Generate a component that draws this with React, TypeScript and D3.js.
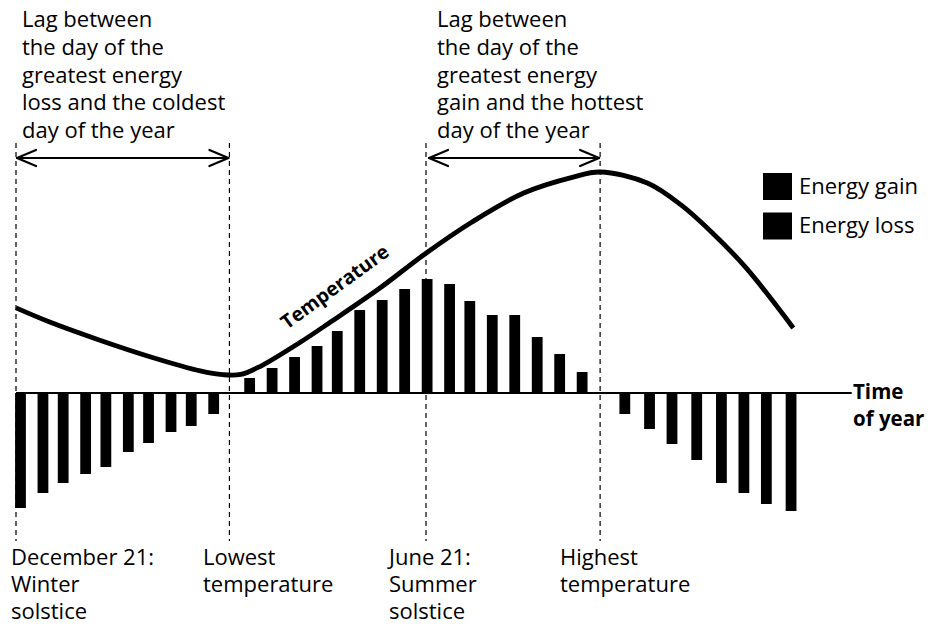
import React from "react";
import * as d3 from "d3";

// ---- data ----
const barDays = [2, 12, 21, 31, 40, 50, 59, 69, 78, 88, 104, 114, 124, 134, 143, 153, 163, 173, 183, 193, 202, 212, 222, 232, 242, 252, 271, 282, 292, 303, 314, 324, 334, 345];
const energy = [-115, -100, -90, -81, -74, -59, -50, -39, -33, -21, 15, 25, 36, 47, 62, 83, 93, 104, 114, 109, 92, 78, 78, 56, 39, 21, -21, -36, -51, -67, -90, -100, -111, -118];

const tempDays = [0, 15, 37, 60, 82, 92, 100, 109, 126, 140, 162, 182, 203, 226, 248, 260, 281, 296, 310, 325, 346];
const tempValues = [38.5, 32.1, 24, 16.3, 10, 8.3, 8.4, 12.2, 22.6, 32.1, 47.5, 62.9, 77.4, 90.5, 97.7, 100, 95, 85.1, 72.4, 56.6, 29.4];

const markerDays = [0, 95, 182.5, 260];
const markerLabels = [
  ["December 21:", "Winter", "solstice"],
  ["Lowest", "temperature"],
  ["June 21:", "Summer", "solstice"],
  ["Highest", "temperature"],
];
const lagText1 = ["Lag between", "the day of the", "greatest energy", "loss and the coldest", "day of the year"];
const lagText2 = ["Lag between", "the day of the", "greatest energy", "gain and the hottest", "day of the year"];
const legendItems = ["Energy gain", "Energy loss"];
const axisEndDay = 372;

const FONT = "'Open Sans', 'Noto Sans', sans-serif";
const FS = 22;
const LH = 27.8;

export default function App() {
  const x = d3.scaleLinear().domain([0, 182.5]).range([16, 426]);
  const yE = d3.scaleLinear().domain([-120, 120]).range([513, 273]);
  const yT = d3.scaleLinear().domain([0, 100]).range([393, 172]);
  const bw = x(4.8) - x(0);

  const line = d3
    .line<number>()
    .x((_, i) => x(tempDays[i]))
    .y((d) => yT(d))
    .curve(d3.curveCatmullRom.alpha(0.5));

  const arrowY = 158;
  const arrow = (x1: number, x2: number, key: string) => (
    <g key={key} stroke="#000" strokeWidth={2.2} fill="none" strokeLinecap="round" strokeLinejoin="round">
      <line x1={x1 + 1} y1={arrowY} x2={x2 - 1} y2={arrowY} />
      <polyline points={`${x1 + 20},${arrowY - 8} ${x1 + 1},${arrowY} ${x1 + 20},${arrowY + 8}`} />
      <polyline points={`${x2 - 20},${arrowY - 8} ${x2 - 1},${arrowY} ${x2 - 20},${arrowY + 8}`} />
    </g>
  );

  const labelX = [11, 203, 389, 560];

  return (
    <svg
      width={942}
      height={627}
      style={{ position: "absolute", left: 0, top: 0, background: "#fff" }}
      fontFamily={FONT}
    >
      <rect width={942} height={627} fill="#fff" />
      {/* dashed markers */}
      {markerDays.map((d, i) => (
        <line
          key={"m" + i}
          x1={x(d)}
          x2={x(d)}
          y1={143}
          y2={541}
          stroke="#000"
          strokeWidth={1.2}
          strokeDasharray="5 4"
        />
      ))}
      {/* lag texts */}
      <text fontSize={FS} fill="#000">
        {lagText1.map((t, i) => (
          <tspan key={i} x={22} y={27 + i * LH}>
            {t}
          </tspan>
        ))}
      </text>
      <text fontSize={FS} fill="#000">
        {lagText2.map((t, i) => (
          <tspan key={i} x={437} y={27 + i * LH}>
            {t}
          </tspan>
        ))}
      </text>
      {arrow(x(markerDays[0]), x(markerDays[1]), "a1")}
      {arrow(x(markerDays[2]) + 2, x(markerDays[3]), "a2")}
      {/* bars */}
      {energy.map((v, i) => (
        <rect
          key={"b" + i}
          x={x(barDays[i]) - bw / 2}
          width={bw}
          y={v >= 0 ? yE(v) : yE(0)}
          height={Math.abs(yE(v) - yE(0))}
          fill="#000"
        />
      ))}
      {/* axis */}
      <line x1={x(0)} x2={x(axisEndDay)} y1={yE(0)} y2={yE(0)} stroke="#000" strokeWidth={2} />
      <text fontSize={20.5} fontWeight="bold" fill="#000">
        <tspan x={853} y={399}>Time</tspan>
        <tspan x={853} y={426}>of year</tspan>
      </text>
      {/* temperature */}
      <path d={line(tempValues) || ""} fill="none" stroke="#000" strokeWidth={4.8} strokeLinecap="butt" />
      <text
        fontSize={19.5}
        fontWeight="bold"
        fill="#000"
        transform={`translate(287,330) rotate(-36)`}
      >
        Temperature
      </text>
      {/* legend */}
      {legendItems.map((t, i) => (
        <g key={"l" + i}>
          <rect x={763} y={173 + i * 39.5} width={29} height={27} fill="#000" />
          <text x={799} y={194 + i * 39} fontSize={FS} fill="#000">
            {t}
          </text>
        </g>
      ))}
      {/* bottom labels */}
      {markerLabels.map((lines, i) => (
        <text key={"bl" + i} fontSize={FS} fill="#000">
          {lines.map((t, j) => (
            <tspan key={j} x={labelX[i]} y={565 + j * 27.2}>
              {t}
            </tspan>
          ))}
        </text>
      ))}
    </svg>
  );
}
